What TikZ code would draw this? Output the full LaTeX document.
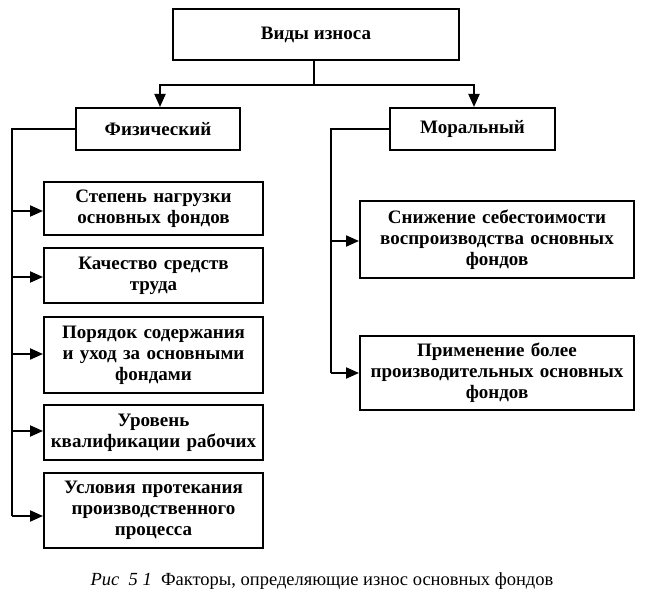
\documentclass[tikz,border=0pt]{standalone}
\usepackage{fontspec}
\setmainfont{Liberation Serif}
\usetikzlibrary{arrows.meta}
\begin{document}
\begin{tikzpicture}[x=1pt,y=1pt,
  box/.style={draw, line width=2pt, inner sep=1pt, align=center,
    font=\fontsize{19}{21}\selectfont\bfseries},
  conn/.style={line width=2pt},
  arr/.style={line width=2pt, -{Triangle[length=13pt,width=11pt]}}]
\useasboundingbox (0,0) rectangle (659,603);
% top
\node[box, minimum width=286pt, minimum height=51pt] (top) at (316,568.5) {Виды износа};
\node[box, minimum width=164pt, minimum height=42pt] (fiz) at (158,474) {Физический};
\node[box, minimum width=165pt, minimum height=42pt] (mor) at (472.5,474) {Моральный};
% left
\tikzset{lbox/.style={box, minimum width=219pt, text width=215pt}}
\node[lbox, minimum height=53pt] (l1) at (153.5,394.5) {Степень нагрузки\\основных фондов};
\node[lbox, minimum height=55pt] (l2) at (153.5,327.5) {Качество средств\\труда};
\node[lbox, minimum height=76pt] (l3) at (153.5,248) {Порядок содержания\\и уход за основными\\фондами};
\node[lbox, minimum height=55pt] (l4) at (153.5,170.5) {Уровень\\квалификации рабочих};
\node[lbox, minimum height=75pt] (l5) at (153.5,92.5) {Условия протекания\\производственного\\процесса};
% right
\tikzset{rbox/.style={box, minimum width=274pt, text width=270pt}}
\node[rbox, minimum height=77pt] (r1) at (497,363.5) {Снижение себестоимости\\воспроизводства основных\\фондов};
\node[rbox, minimum height=74pt] (r2) at (497,230) {Применение более\\производительных основных\\фондов};
% caption
\node[font=\fontsize{18.5}{21}\selectfont] (cap) at (322,22) {\textit{Рис\ \ 5 1}\ \ Факторы, определяющие износ основных фондов};
% top connectors
\coordinate (j) at (314,518);
\draw[conn] (top.south -| j) -- (j);
\draw[arr] (j) -| (fiz.north -| 160,0);
\draw[arr] (j) -| (mor.north -| 474,0);
% left trunk
\coordinate (lt) at (12,87);
\draw[conn] (fiz.west) -| (lt);
\coordinate (a1) at (12,392);
\coordinate (a2) at (12,326);
\coordinate (a3) at (12,249);
\coordinate (a4) at (12,172);
\draw[arr] (a1) -- (a1 -| l1.west);
\draw[arr] (a2) -- (a2 -| l2.west);
\draw[arr] (a3) -- (a3 -| l3.west);
\draw[arr] (a4) -- (a4 -| l4.west);
\draw[arr] (lt) -- (lt -| l5.west);
% right trunk
\coordinate (rt) at (331,230);
\draw[conn] (mor.west) -| (rt);
\coordinate (b1) at (331,362);
\draw[arr] (b1) -- (b1 -| r1.west);
\draw[arr] (rt) -- (rt -| r2.west);
\end{tikzpicture}
\end{document}
